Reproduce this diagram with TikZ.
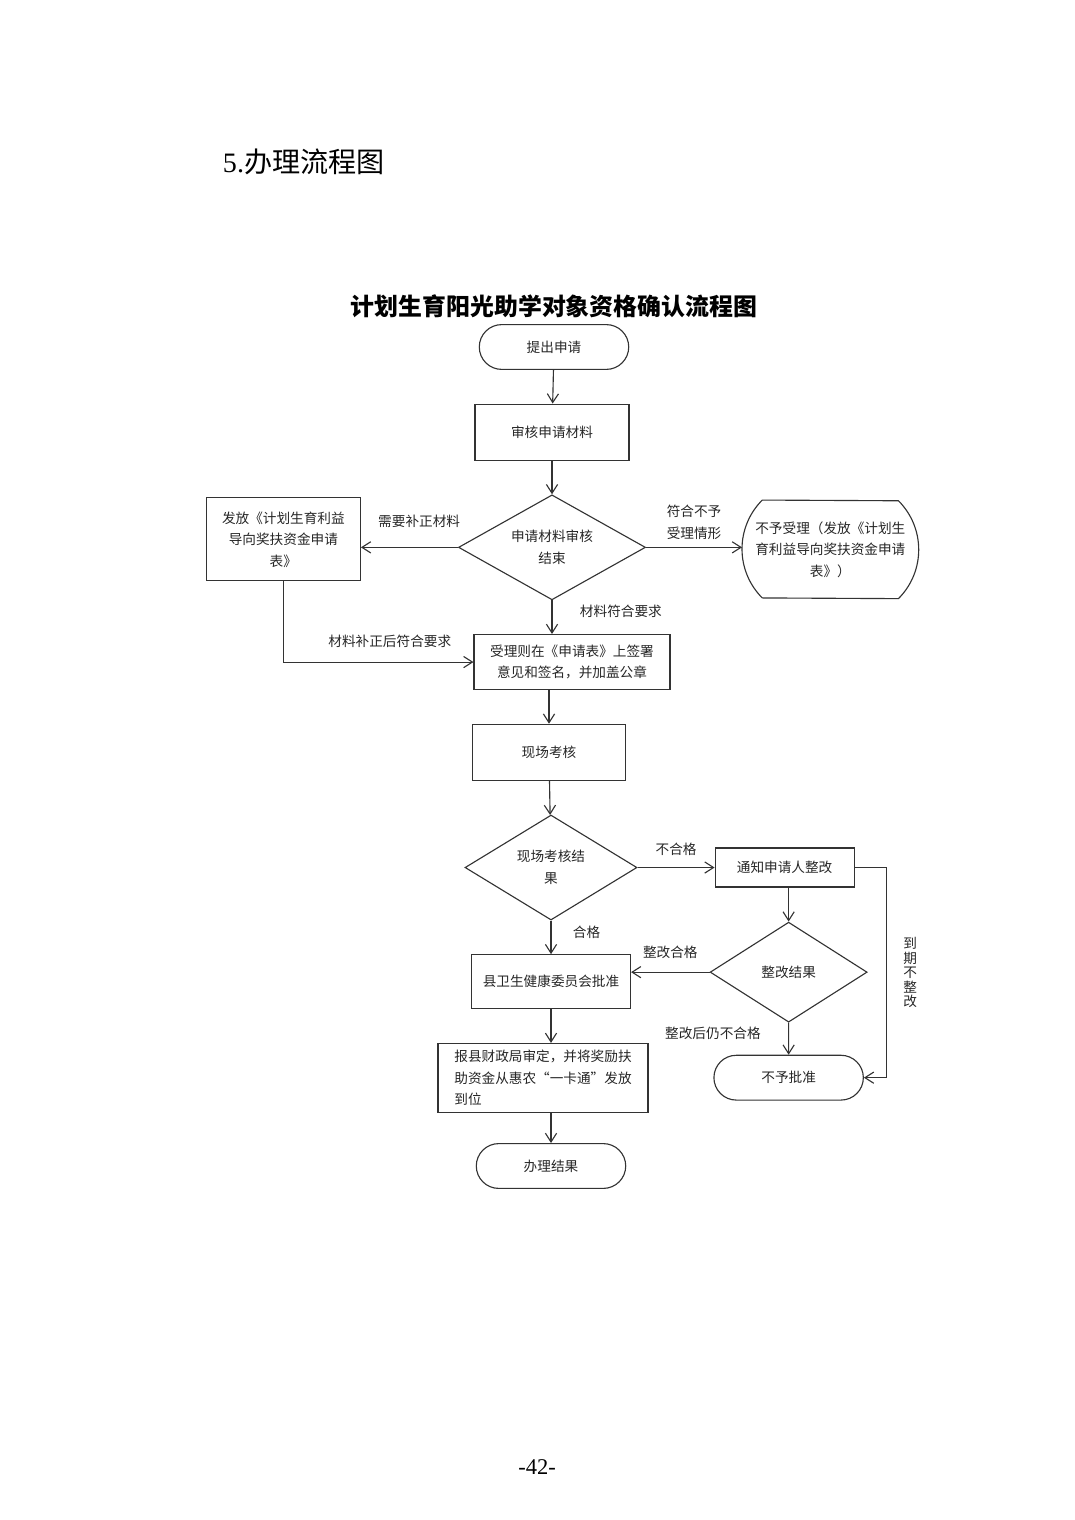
\documentclass[tikz,border=0pt]{standalone}
\usepackage{fontspec}
\setmainfont{Liberation Serif}
\newfontfamily\cjk{Noto Sans CJK SC}
\usetikzlibrary{positioning, arrows.meta, shapes.geometric, shapes.misc}

\begin{document}
\begin{tikzpicture}[
    node distance=0.84cm,
    every node/.style={font=\cjk\fontsize{9.7pt}{15.3pt}\selectfont, text=black!85},
    outline/.style={draw=black!80, line width=0.8pt},
    box/.style={rectangle, outline, align=center, inner sep=2pt},
    decision/.style={diamond, outline, align=center, inner sep=0pt, aspect=1.8},
    terminal/.style={rounded rectangle, outline, align=center, minimum width=3.97cm, minimum height=1.12cm},
    lbl/.style={inner sep=1pt, align=center},
    arrow/.style={-{Straight Barb[length=2.2mm,width=2.8mm]}, draw=black!80, line width=0.8pt}
]
\useasboundingbox (0,0) rectangle (26.85,-38);

% page heading and number
\node[anchor=west, font=\rmfamily\fontsize{20pt}{24pt}\selectfont, text=black] (heading) at (5.45,-4.05) {5.{\cjk 办理流程图}};
\node[font=\rmfamily\fontsize{16pt}{18pt}\selectfont, text=black] (pagenum) at (13.43,-36.68) {-42-};

% main column
\node[terminal] (start) at (13.85,-8.675) {提出申请};
\node[font=\cjk\bfseries\fontsize{17pt}{20pt}\selectfont, text=black] (title) [above=0.02cm of start] {计划生育阳光助学对象资格确认流程图};
\node[box, minimum width=3.85cm, minimum height=1.4cm] (check) [below=of start, xshift=-0.05cm] {审核申请材料};
\node[decision, minimum width=4.675cm, minimum height=2.625cm] (dia1) [below=of check] {申请材料审核\\结束};
\node[box, minimum width=3.85cm, minimum height=2.075cm] (issue) [left=2.425cm of dia1, yshift=0.2cm] {发放《计划生育利益\\导向奖扶资金申请\\表》};
\node[align=center, inner xsep=0pt, minimum height=2.45cm] (reject) [right=2.725cm of dia1, yshift=-0.05cm] {不予受理（发放《计划生\\育利益导向奖扶资金申请\\表》）};
\draw[outline] ([xshift=0.18cm]reject.north west) arc[start angle=135, end angle=180, radius=1.73cm] coordinate (rejectin)
    arc[start angle=180, end angle=225, radius=1.73cm] -- ([xshift=-0.18cm]reject.south east)
    arc[start angle=-45, end angle=45, radius=1.73cm] -- cycle;
\node[box, minimum width=4.9cm, minimum height=1.375cm] (accept) [below=of dia1, xshift=0.5cm] {受理则在《申请表》上签署\\意见和签名，并加盖公章};
\node[box, minimum width=3.825cm, minimum height=1.4cm] (site) [below=of accept, xshift=-0.575cm] {现场考核};
\node[decision, minimum width=4.3cm, minimum height=2.625cm] (dia2) [below=of site, xshift=0.05cm] {现场考核结\\果};
\node[box, minimum width=3.975cm, minimum height=1.35cm] (approve) [below=of dia2] {县卫生健康委员会批准};
\node[box, align=left, minimum width=5.25cm, minimum height=1.725cm] (report) [below=of approve, xshift=-0.2cm] {报县财政局审定，并将奖励扶\\助资金从惠农“一卡通”发放\\到位};
\node[terminal] (end) [below=0.75cm of report, xshift=0.2cm] {办理结果};

% rectification branch
\node[box, minimum width=3.475cm, minimum height=0.975cm] (notify) [right=1.925cm of dia2] {通知申请人整改};
\node[decision, aspect=1.57, minimum width=3.925cm, minimum height=2.5cm] (dia3) [below=0.85cm of notify, xshift=0.1cm] {整改结果};
\node[terminal] (deny) [below=0.8cm of dia3] {不予批准};

\draw[arrow] (start) -- (check);
\draw[arrow] (check) -- (dia1);
\draw[arrow] (dia1) -- node[lbl, above=0.45cm, pos=0.4] {需要补正材料} (dia1.west -| issue.east);
\draw[arrow] (dia1.east) -- node[lbl, above=0.15cm] {符合不予\\受理情形} (dia1.east -| rejectin);
\draw[arrow] (dia1.south) -- node[lbl, right=0.65cm, pos=0.32] {材料符合要求} (dia1.south |- accept.north);
\draw[arrow] (issue.south) |- node[lbl, above=0.3cm, pos=0.78] {材料补正后符合要求} (accept.west);
\draw[arrow] (accept.south -| site.north) -- (site.north);
\draw[arrow] (site) -- (dia2);
\draw[arrow] (dia2) -- node[lbl, above=0.25cm] {不合格} (notify);
\draw[arrow] (dia2) -- node[lbl, right=0.5cm, pos=0.34] {合格} (approve);
\draw[arrow] (approve.south) -- (approve.south |- report.north);
\draw[arrow] (end.north |- report.south) -- (end.north);
\draw[arrow] (notify.south -| dia3.north) -- (dia3.north);
\draw[arrow] (dia3.west) -- node[lbl, above=0.28cm] {整改合格} (dia3.west -| approve.east);
\draw[arrow] (dia3) -- node[lbl, left=0.65cm, pos=0.33] {整改后仍不合格} (deny);
\draw[arrow] (notify.east) -- ++(0.8,0) |- node[lbl, right=0.37cm, pos=0.25, font=\cjk\fontsize{9.7pt}{10.3pt}\selectfont] {到\\期\\不\\整\\改} (deny.east);

\end{tikzpicture}
\end{document}
